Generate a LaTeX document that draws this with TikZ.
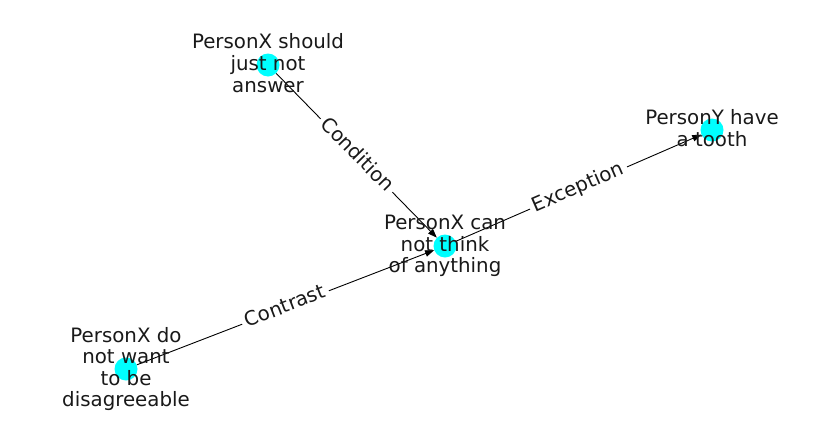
\documentclass[tikz,border=0pt]{standalone}
\usepackage{fontspec}
\setmainfont{DejaVu Sans}
\usepackage{tikz}
\usetikzlibrary{arrows.meta, positioning}
\definecolor{nodecolor}{RGB}{0, 255, 255}
\definecolor{textcolor}{RGB}{25, 25, 25}

\begin{document}
\begin{tikzpicture}[
    x=1pt, y=-1pt,
    dot/.style={circle, fill=nodecolor, minimum size=23pt, inner sep=0pt},
    lbl/.style={align=center, text=textcolor, font=\fontsize{19.8}{21.6}\selectfont,
        execute at begin node=\vphantom{lp}, execute at end node=\vphantom{lp}},
    link/.style={-{Triangle[length=9pt, width=6.5pt]}, line width=0.9pt, black},
    elbl/.style={midway, sloped, fill=white, rounded corners=4pt, inner sep=4pt,
        text=textcolor, font=\fontsize{19.8}{21.6}\selectfont,
        text height=15pt, text depth=4.7pt}
]
    \useasboundingbox (0,0) rectangle (837,434);

    % Nodes
    \node[dot] (answer) at (268, 65) {};
    \node[dot] (think) at (445, 246) {};
    \node[dot] (tooth) at (712, 130) {};
    \node[dot] (agree) at (126, 369) {};

    % Relations
    \draw[link] (answer) -- (think) node[elbl] {Condition};
    \draw[link] (think) -- (tooth) node[elbl] {Exception};
    \draw[link] (agree) -- (think) node[elbl] {Contrast};

    % Labels
    \node[lbl] (answertxt) at (answer) {PersonX should\\just not\\answer};
    \node[lbl] (thinktxt) at (think) {PersonX can\\not think\\of anything};
    \node[lbl] (toothtxt) at (tooth) {PersonY have\\a tooth};
    \node[lbl] (agreetxt) at (agree) {PersonX do\\not want\\to be\\disagreeable};

\end{tikzpicture}
\end{document}
